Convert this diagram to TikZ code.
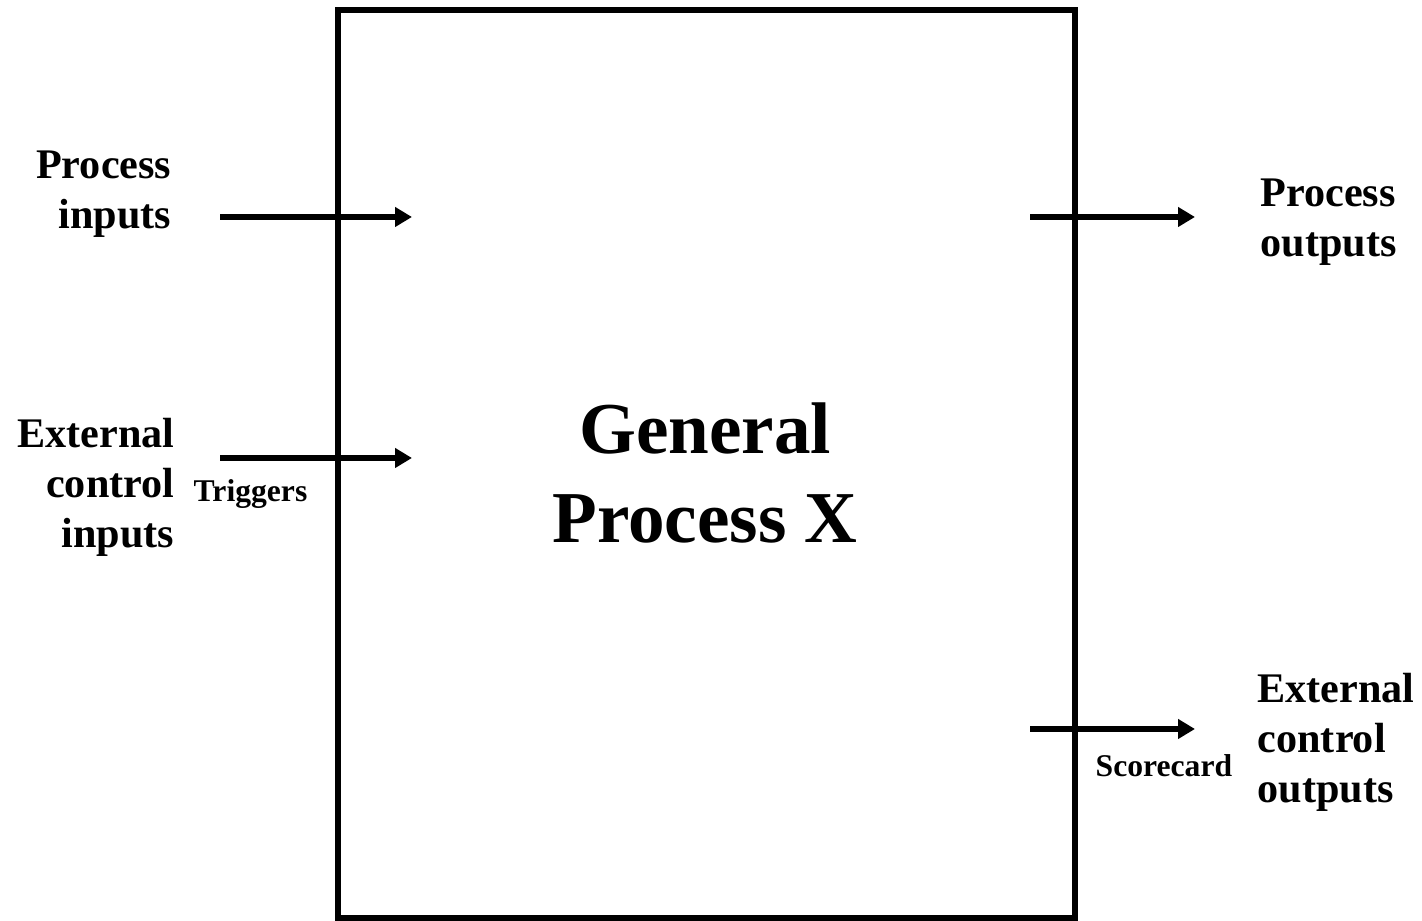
\documentclass[tikz,border=0pt]{standalone}
\usepackage{fontspec}
\setmainfont{Liberation Serif}
\usetikzlibrary{arrows.meta}
\tikzstyle{arrow} = [line width=1.5pt,-{Triangle[length=0.17cm,width=0.19cm]}]
\tikzstyle{sidetext} = [inner sep=0,font=\fontsize{12}{14.2}\selectfont\bfseries]
\tikzstyle{tag} = [inner sep=0,font=\fontsize{9}{10}\selectfont\bfseries]

\begin{document}
\begin{tikzpicture}
	\useasboundingbox (0,0) rectangle (14.22,9.21);
	\node[draw,line width=1.7pt,inner sep=0,minimum width=7.37cm,minimum height=9.08cm] (box) at (7.065,4.57) {};
	\node[inner sep=0,align=center,font=\fontsize{20.8}{25.5}\selectfont\bfseries] (title) at (7.05,4.48) {General\\Process X};
	\node[sidetext,align=right,anchor=east] (pin) at (1.72,7.27) {Process\\inputs};
	\node[sidetext,align=right,anchor=east] (cin) at (1.75,4.34) {External\\control\\inputs};
	\node[sidetext,align=left,anchor=west] (pout) at (12.60,6.99) {Process\\outputs};
	\node[sidetext,align=left,anchor=west] (cout) at (12.57,1.79) {External\\control\\outputs};
	\node[tag,anchor=base west] (trig) at (1.93,4.19) {Triggers};
	\node[tag,anchor=base west] (score) at (10.95,1.44) {Scorecard};
	% arrow ends
	\coordinate (pin a) at (2.20,7.04);
	\coordinate (pin b) at (4.12,7.04);
	\coordinate (cin a) at (2.20,4.63);
	\coordinate (cin b) at (4.12,4.63);
	\coordinate (pout a) at (10.30,7.04);
	\coordinate (pout b) at (11.95,7.04);
	\coordinate (cout a) at (10.30,1.92);
	\coordinate (cout b) at (11.95,1.92);
	\draw[arrow] (pin a) -- (pin b);
	\draw[arrow] (cin a) -- (cin b);
	\draw[arrow] (pout a) -- (pout b);
	\draw[arrow] (cout a) -- (cout b);
\end{tikzpicture}
\end{document}
